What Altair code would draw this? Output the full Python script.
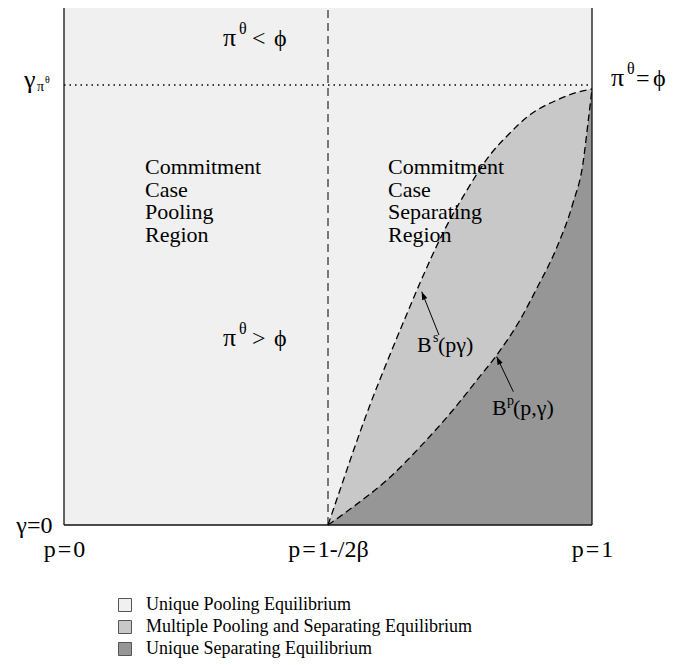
import math
import altair as alt
import pandas as pd

FONT = "Liberation Serif"
W, H = 528, 525

# ---------------- data ----------------
region_labels = [
    "Unique Pooling Equilibrium",
    "Multiple Pooling and Separating Equilibrium",
    "Unique Separating Equilibrium",
]
region_colors = ["#f0f0f0", "#c8c8c8", "#969696"]

# B^s(p, gamma) boundary (upper dashed curve)
upper_x = [0.5, 0.5227, 0.5473, 0.5795, 0.6117, 0.6458, 0.6742, 0.7178,
           0.7633, 0.8068, 0.8447, 0.8769, 0.9337, 0.9678, 1.0]
upper_y = [0.0, 0.0667, 0.139, 0.2286, 0.3105, 0.3935, 0.461, 0.5562,
           0.638, 0.7048, 0.7467, 0.7771, 0.8095, 0.8229, 0.8305]

# B^p(p, gamma) boundary (lower dashed curve)
lower_x = [0.5, 0.5473, 0.6117, 0.6742, 0.7367, 0.7822, 0.8201, 0.8636,
           0.8958, 0.9337, 0.964, 0.983, 0.9924, 1.0]
lower_y = [0.0, 0.0343, 0.0857, 0.1486, 0.219, 0.2762, 0.3245, 0.3905,
           0.4514, 0.5295, 0.6133, 0.6895, 0.7657, 0.8305]

p_threshold = 0.5      # p = 1-/2beta
gamma_pi = 0.838       # gamma_{pi^theta}

HS = "\u200a"
x_tick_values = [0, 0.5, 1]
x_tick_labels = [f"p{HS}={HS}0", f"p{HS}={HS}1-/2\u03b2", f"p{HS}={HS}1"]
y_tick_values = [0]
y_tick_labels = ["\u03b3=0"]

PHI = "\u03d5"
# annotation texts (data units of the chart)
ann_text = ["\u03c0", "\u03b8", "<", PHI,
            "\u03c0", "\u03b8", ">", PHI,
            "\u03c0", "\u03b8", "=", PHI,
            "\u03b3", "\u03c0", "\u03b8",
            "B", "s", "(p\u03b3)",
            "B", "p", "(p,\u03b3)"]
ann_x = [0.3011, 0.3314, 0.3561, 0.3977,
         0.3011, 0.3314, 0.3561, 0.3977,
         1.0360, 1.0663, 1.0833, 1.1155,
         -0.0757, -0.0511, -0.0360,
         0.6686, 0.6989, 0.7083,
         0.8106, 0.8390, 0.8504]
ann_y = [0.9124, 0.9352, 0.9124, 0.9124,
         0.3410, 0.3638, 0.3410, 0.3410,
         0.8362, 0.8590, 0.8362, 0.8362,
         0.8324, 0.8267, 0.8419,
         0.3295, 0.3486, 0.3295,
         0.2095, 0.2286, 0.2095]
ann_size = [26, 16, 24, 24,
            26, 16, 24, 24,
            26, 16, 24, 24,
            26, 14, 10,
            22, 14, 22,
            22, 14, 22]

region_text = ["Commitment\nCase\nPooling\nRegion",
               "Commitment\nCase\nSeparating\nRegion"]
region_text_x = [0.1534, 0.6136]
region_text_y = [0.6686, 0.6686]

arrow_tail_x = [0.7102, 0.8510]
arrow_tail_y = [0.3619, 0.2539]
arrow_tip_x = [0.6775, 0.8195]
arrow_tip_y = [0.4444, 0.3206]

# ---------------- encodings ----------------
def label_expr(values, labels):
    expr = "''"
    for v, l in reversed(list(zip(values, labels))):
        expr = f"datum.value == {v} ? '{l}' : ({expr})"
    return expr

x_axis = alt.Axis(values=x_tick_values, labelExpr=label_expr(x_tick_values, x_tick_labels),
                  domain=False, ticks=False, grid=False, title=None,
                  labelFont=FONT, labelFontSize=24, labelColor="black",
                  labelBaseline="alphabetic", labelPadding=31,
                  labelFlush=False, labelOverlap=False, labelAlign="center")
y_axis = alt.Axis(values=y_tick_values, labelExpr=label_expr(y_tick_values, y_tick_labels),
                  domain=False, ticks=False, grid=False, title=None,
                  labelFont=FONT, labelFontSize=24, labelColor="black",
                  labelBaseline="middle", labelPadding=12,
                  labelFlush=False, labelOverlap=False, labelAlign="right")
xs = alt.Scale(domain=[0, 1], nice=False, zero=False)
ys = alt.Scale(domain=[0, 1], nice=False, zero=False)

def X(f):
    return alt.X(f, type="quantitative", scale=xs, axis=x_axis)

def Y(f):
    return alt.Y(f, type="quantitative", scale=ys, axis=y_axis)

legend = alt.Legend(title=None, orient="none", legendX=52, legendY=596,
                    symbolType="square", symbolSize=169,
                    symbolStrokeColor="#555555", symbolStrokeWidth=1, symbolOpacity=1,
                    labelFont=FONT, labelFontSize=18, labelColor="black", labelLimit=0,
                    labelOffset=12, rowPadding=4, padding=0, offset=0)
color = alt.Color("region:N", scale=alt.Scale(domain=region_labels, range=region_colors),
                  legend=legend)

# ---------------- layers ----------------
bg_df = pd.DataFrame({"x": [0], "x2": [1], "y": [0], "y2": [1], "region": [region_labels[0]]})
bg = alt.Chart(bg_df).mark_rect(opacity=1).encode(
    x=X("x"), x2="x2", y=Y("y"), y2="y2", color=color)

up_df = pd.DataFrame({"x": upper_x, "y": upper_y, "region": region_labels[1]})
lo_df = pd.DataFrame({"x": lower_x, "y": lower_y, "region": region_labels[2]})

mid_area = alt.Chart(up_df).mark_area(interpolate="monotone", opacity=1).encode(
    x=X("x"), y=Y("y"), color=color)
dark_area = alt.Chart(lo_df).mark_area(interpolate="monotone", opacity=1).encode(
    x=X("x"), y=Y("y"), color=color)

up_line = alt.Chart(up_df).mark_line(interpolate="monotone", color="black",
                                     strokeWidth=1.3, strokeDash=[7, 4]).encode(
    x=X("x"), y=Y("y"))
lo_line = alt.Chart(lo_df).mark_line(interpolate="monotone", color="black",
                                     strokeWidth=1.3, strokeDash=[7, 4]).encode(
    x=X("x"), y=Y("y"))

vline = alt.Chart(pd.DataFrame({"x": [p_threshold], "y": [0], "y2": [1]})).mark_rule(
    color="black", strokeWidth=1, strokeDash=[8, 5]).encode(x=X("x"), y=Y("y"), y2="y2")
hline = alt.Chart(pd.DataFrame({"x": [0], "x2": [1], "y": [gamma_pi]})).mark_rule(
    color="black", strokeWidth=1.5, strokeDash=[1.5, 4]).encode(x=X("x"), x2="x2", y=Y("y"))

border_df = pd.DataFrame({"x": [0, 1, 0], "x2": [0, 1, 1], "y": [0, 0, 0], "y2": [1, 1, 0]})
border = alt.Chart(border_df).mark_rule(color="#111111", strokeWidth=1.3).encode(
    x=X("x"), x2="x2", y=Y("y"), y2="y2")

ann_df = pd.DataFrame({"x": ann_x, "y": ann_y, "text": ann_text, "size": ann_size})
ann = alt.Chart(ann_df).mark_text(font=FONT, align="left", baseline="alphabetic",
                                  color="black").encode(
    x=X("x"), y=Y("y"), text="text:N", size=alt.Size("size:Q", scale=None, legend=None))

reg_df = pd.DataFrame({"x": region_text_x, "y": region_text_y, "text": region_text})
reg = alt.Chart(reg_df).mark_text(font=FONT, fontSize=22, align="left", baseline="alphabetic",
                                  lineBreak="\n", lineHeight=22.7, color="black").encode(
    x=X("x"), y=Y("y"), text="text:N")

arrow_df = pd.DataFrame({"x": arrow_tail_x, "y": arrow_tail_y,
                         "x2": arrow_tip_x, "y2": arrow_tip_y})
arrow_df["angle"] = [
    math.degrees(math.atan2((tx - sx) * W, (ty - sy) * H)) % 360
    for sx, sy, tx, ty in zip(arrow_tail_x, arrow_tail_y, arrow_tip_x, arrow_tip_y)
]
arrow_lines = alt.Chart(arrow_df).mark_rule(color="black", strokeWidth=1).encode(
    x=X("x"), y=Y("y"), x2="x2", y2="y2")
arrow_heads = alt.Chart(arrow_df).mark_point(
    shape="M0,0L-0.35,1L0.35,1Z", filled=True, color="black", opacity=1, size=256,
    strokeWidth=0).encode(
    x=X("x2"), y=Y("y2"), angle=alt.Angle("angle:Q", scale=None))

chart = alt.layer(bg, mid_area, dark_area, vline, hline, up_line, lo_line, border,
                  reg, ann, arrow_lines, arrow_heads).properties(
    width=W, height=H,
    padding={"left": 56, "top": -8, "right": 74, "bottom": 133},
    autosize=alt.AutoSizeParams(type="none"),
).configure_view(strokeWidth=0)

chart.save("out.html", embed_options={"renderer": "svg", "actions": False})
